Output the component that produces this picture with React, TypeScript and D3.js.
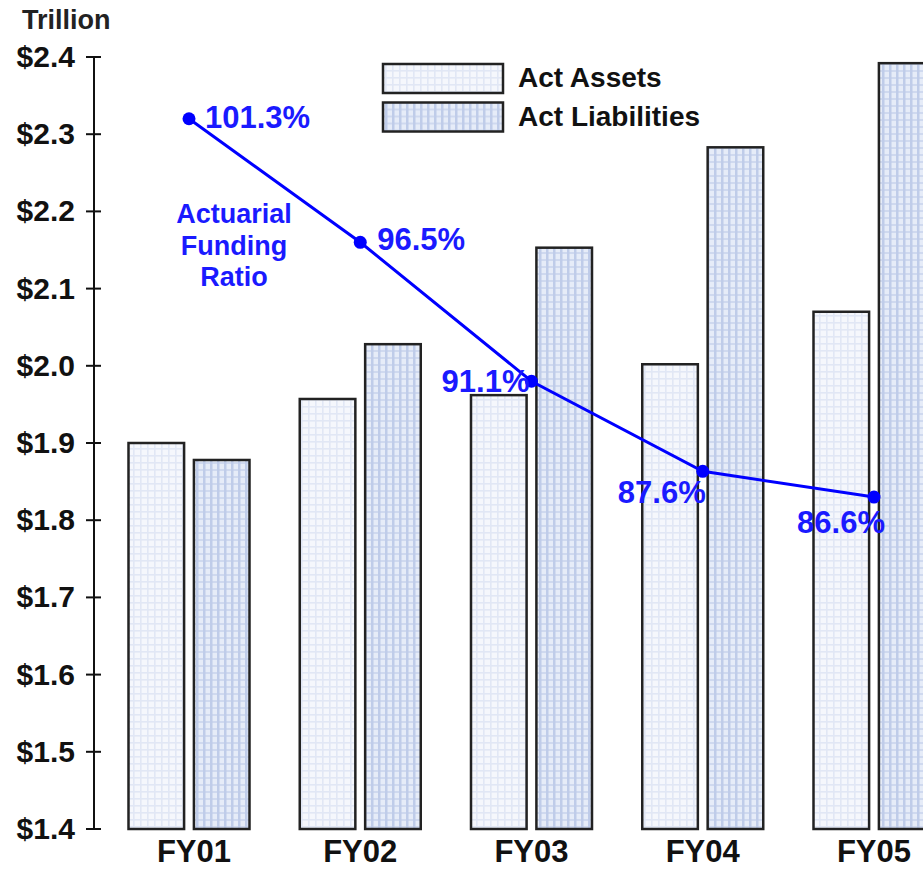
import React from "react";
import * as d3 from "d3";

// Fiscal years shown on the x axis
const categories = ["FY01", "FY02", "FY03", "FY04", "FY05"];
// Actuarial assets and liabilities, in trillions of dollars
const assets = [1.9, 1.957, 1.962, 2.002, 2.07];
const liabilities = [1.878, 2.028, 2.153, 2.283, 2.392];
// Actuarial funding ratio, percent
const fundingRatio = [101.3, 96.5, 91.1, 87.6, 86.6];
// Left axis ticks
const yTicks = [1.4, 1.5, 1.6, 1.7, 1.8, 1.9, 2.0, 2.1, 2.2, 2.3, 2.4];
const seriesNames = ["Act Assets", "Act Liabilities"];

// Placement of each ratio label relative to its point
const ratioLabelPlacement = [
  { anchor: "start", dx: 16, dy: 9 },
  { anchor: "start", dx: 17, dy: 8 },
  { anchor: "end", dx: -2, dy: 11 },
  { anchor: "end", dx: 3, dy: 32 },
  { anchor: "end", dx: 11, dy: 36 },
];

const W = 923;
const H = 869;
const FONT = "'Liberation Sans', Arial, Helvetica, sans-serif";
const BLUE = "#0000ff";
const BLUE_TEXT = "#1a1aff";

export default function App() {
  const y = d3.scaleLinear().domain([1.4, 2.4]).range([829, 57]);
  // Secondary (hidden) scale for the funding ratio line
  const yRatio = d3.scaleLinear().domain([73.7, 103.7]).range([829, 57]);
  const x = d3.scalePoint<string>().domain(categories).range([189, 874]);
  const sub = d3
    .scaleBand<string>()
    .domain(["a", "l"])
    .range([-60.5, 60.5])
    .paddingInner(0.15);

  const axisX = 94;
  const lineGen = d3
    .line<number>()
    .x((_, i) => x(categories[i])!)
    .y((d) => yRatio(d));

  return (
    <svg
      width={W}
      height={H}
      style={{ position: "absolute", left: 0, top: 0, background: "#fff" }}
      fontFamily={FONT}
    >
      <defs>
        <pattern id="patAssets" width={7} height={7} patternUnits="userSpaceOnUse">
          <rect width={7} height={7} fill="#f5f7fc" />
          <rect x={0} y={0} width={7} height={1.6} fill="#e1e7f5" />
          <rect x={0} y={0} width={1.6} height={7} fill="#e1e7f5" />
        </pattern>
        <pattern id="patLiab" width={7} height={7} patternUnits="userSpaceOnUse">
          <rect width={7} height={7} fill="#e6ecf8" />
          <rect x={0} y={0} width={7} height={2} fill="#cfd9ef" />
          <rect x={0} y={0} width={2.5} height={7} fill="#bfcce9" />
        </pattern>
      </defs>

      <rect width={W} height={H} fill="#fff" />

      {/* Unit caption */}
      <text x={22} y={29} fontSize={27} fontWeight="bold" fill="#222">
        Trillion
      </text>

      {/* Y axis */}
      <line x1={axisX} x2={axisX} y1={y(2.4)} y2={y(1.4)} stroke="#111" strokeWidth={2} />
      {yTicks.map((t) => (
        <g key={t}>
          <line x1={axisX - 8} x2={axisX + 7} y1={y(t)} y2={y(t)} stroke="#111" strokeWidth={2} />
          <text
            x={75}
            y={y(t) + 10}
            textAnchor="end"
            fontSize={30}
            fontWeight="bold"
            fill="#111"
          >
            {"$" + d3.format(".1f")(t)}
          </text>
        </g>
      ))}

      {/* Bars */}
      {categories.map((c, i) => {
        const cx = x(c)!;
        return (
          <g key={c}>
            <rect
              x={cx + sub("a")!}
              y={y(assets[i])}
              width={sub.bandwidth()}
              height={y(1.4) - y(assets[i])}
              fill="url(#patAssets)"
              stroke="#222"
              strokeWidth={2.5}
            />
            <rect
              x={cx + sub("l")!}
              y={y(liabilities[i])}
              width={sub.bandwidth()}
              height={y(1.4) - y(liabilities[i])}
              fill="url(#patLiab)"
              stroke="#222"
              strokeWidth={2.5}
            />
            <text
              x={cx + (i === 0 ? 5 : 0)}
              y={862}
              textAnchor="middle"
              fontSize={31}
              fontWeight="bold"
              fill="#111"
            >
              {c}
            </text>
          </g>
        );
      })}

      {/* Legend */}
      {seriesNames.map((name, i) => (
        <g key={name} transform={`translate(0, ${i * 38.5})`}>
          <rect
            x={383}
            y={64}
            width={120}
            height={29}
            fill={i === 0 ? "url(#patAssets)" : "url(#patLiab)"}
            stroke="#222"
            strokeWidth={2.5}
          />
          <text x={518} y={87} fontSize={28} fontWeight="bold" fill="#111">
            {name}
          </text>
        </g>
      ))}

      {/* Funding ratio line */}
      <path d={lineGen(fundingRatio) || ""} fill="none" stroke={BLUE} strokeWidth={3} />
      {fundingRatio.map((r, i) => (
        <circle key={i} cx={x(categories[i])!} cy={yRatio(r)} r={6.5} fill={BLUE} />
      ))}
      {fundingRatio.map((r, i) => {
        const p = ratioLabelPlacement[i];
        return (
          <text
            key={"l" + i}
            x={x(categories[i])! + p.dx}
            y={yRatio(r) + p.dy}
            textAnchor={p.anchor as any}
            fontSize={31}
            fontWeight="bold"
            fill={BLUE_TEXT}
          >
            {d3.format(".1f")(r) + "%"}
          </text>
        );
      })}

      {/* Line caption */}
      <text textAnchor="middle" fontSize={27} fontWeight="bold" fill={BLUE_TEXT}>
        <tspan x={234} y={223}>Actuarial</tspan>
        <tspan x={234} y={255}>Funding</tspan>
        <tspan x={234} y={286}>Ratio</tspan>
      </text>
    </svg>
  );
}
